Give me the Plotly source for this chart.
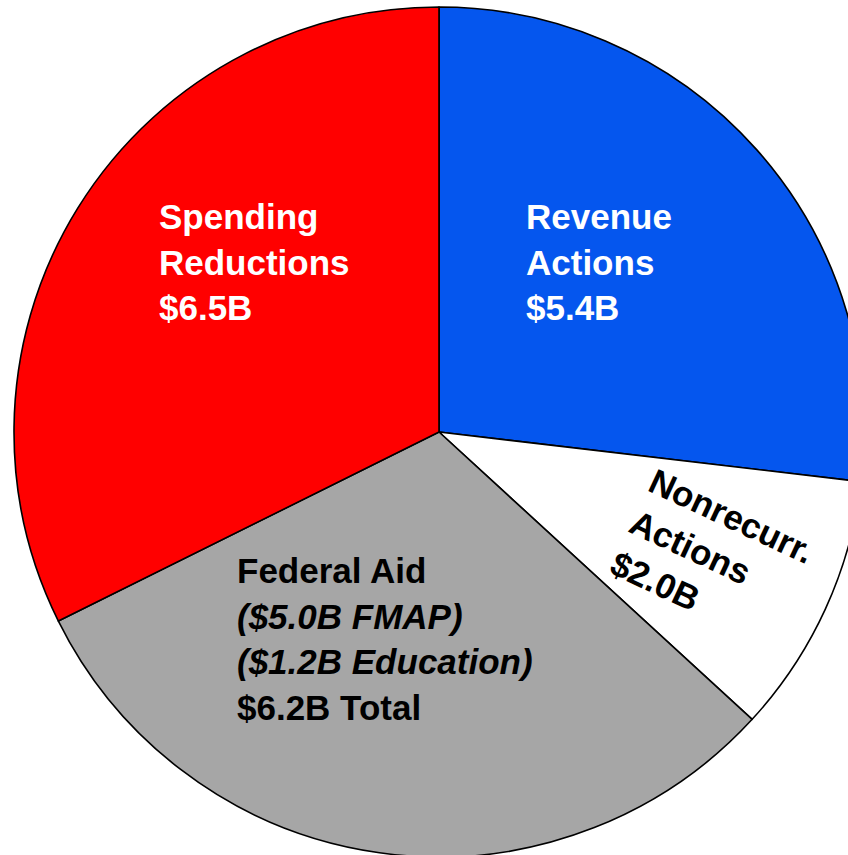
import plotly.graph_objects as go

# Budget gap closing actions, in billions of dollars
categories = ["Revenue Actions", "Nonrecurr. Actions", "Federal Aid", "Spending Reductions"]
values = [5.4, 2.0, 6.2, 6.5]
fed_fmap = 5.0
fed_education = 1.2
colors = ["#0556EE", "#FFFFFF", "#A6A6A6", "#FF0000"]

W, H = 878, 864
FONT = "Liberation Sans, Arial, sans-serif"
FS = 35

fig = go.Figure(
    go.Pie(
        labels=categories,
        values=values,
        sort=False,
        direction="clockwise",
        rotation=0,
        marker=dict(colors=colors, line=dict(color="#000000", width=1.6)),
        textinfo="none",
        hoverinfo="label+value",
        showlegend=False,
        domain=dict(x=[0, 1], y=[7 / H, 1 - 7 / H]),
    )
)


def px(x):
    return x / W


def py(y):
    return 1 - y / H


def money(v):
    return f"${v:.1f}B"


annotations = [
    dict(
        text=f"Spending<br>Reductions<br>{money(values[3])}",
        x=px(157), y=py(195), xanchor="left", yanchor="top",
        font=dict(color="white"),
    ),
    dict(
        text=f"Revenue<br>Actions<br>{money(values[0])}",
        x=px(524), y=py(195), xanchor="left", yanchor="top",
        font=dict(color="white"),
    ),
    dict(
        text=(
            "Federal Aid<br>"
            f"<i>({money(fed_fmap)} FMAP)</i><br>"
            f"<i>({money(fed_education)} Education)</i><br>"
            f"{money(values[2])} Total"
        ),
        x=px(235), y=py(549), xanchor="left", yanchor="top",
        font=dict(color="black"),
    ),
    dict(
        text=f"Nonrecurr.<br>Actions<br>{money(values[1])}",
        x=px(712), y=py(557), xanchor="center", yanchor="middle",
        textangle=25,
        font=dict(color="black"),
    ),
]
for a in annotations:
    a.update(xref="paper", yref="paper", showarrow=False, align="left")
    a["font"].update(family=FONT, size=FS, weight="bold")

fig.update_layout(
    width=W,
    height=H,
    margin=dict(l=0, r=0, t=0, b=0),
    paper_bgcolor="white",
    plot_bgcolor="white",
    annotations=annotations,
)

fig.write_html("out.html")
